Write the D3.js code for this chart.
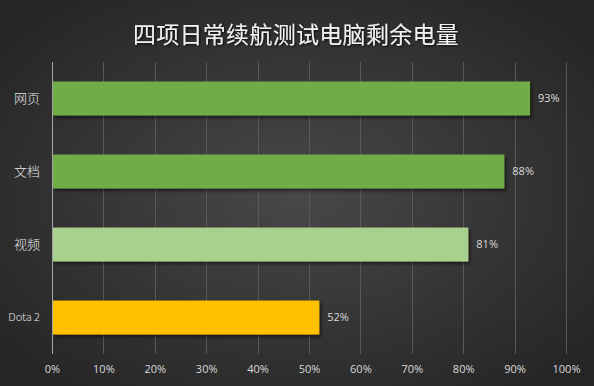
<!DOCTYPE html>
<html>
<head>
<meta charset="utf-8">
<script src="https://cdn.jsdelivr.net/npm/d3@7"></script>
<style>
    body { margin: 0; background: #2a2a2a; }
    svg { display: block; }
    text { font-family: "Noto Sans CJK SC", "Noto Sans", sans-serif; }
</style>
</head>
<body>
<div id="chart"></div>
<script>
// data
var categories = ["网页", "文档", "视频", "Dota 2"]
var values = [93, 88, 81, 52]
var barColors = ["#70ad47", "#70ad47", "#a9d18e", "#ffc000"]
var tickValues = [0, 10, 20, 30, 40, 50, 60, 70, 80, 90, 100]
var title = "四项日常续航测试电脑剩余电量"

var width = 594, height = 386
var margin = {top: 62, right: 28, bottom: 32, left: 52}
var innerW = width - margin.left - margin.right,
    innerH = height - margin.top - margin.bottom

var svg = d3.select("#chart").append("svg")
    .attr("width", width)
    .attr("height", height)

var defs = svg.append("defs")
var grad = defs.append("radialGradient")
    .attr("id", "bg")
    .attr("cx", "50%").attr("cy", "50%").attr("r", "65%")
grad.append("stop").attr("offset", "0%").attr("stop-color", "#484848")
grad.append("stop").attr("offset", "100%").attr("stop-color", "#252525")

var shadow = defs.append("filter").attr("id", "shadow")
    .attr("x", "-5%").attr("y", "-20%").attr("width", "115%").attr("height", "160%")
shadow.append("feDropShadow")
    .attr("dx", 2).attr("dy", 2.5).attr("stdDeviation", 1.8)
    .attr("flood-color", "#000").attr("flood-opacity", 0.5)

var tshadow = defs.append("filter").attr("id", "tshadow")
tshadow.append("feDropShadow")
    .attr("dx", 1).attr("dy", 1).attr("stdDeviation", 0.8)
    .attr("flood-color", "#000").attr("flood-opacity", 0.8)

svg.append("rect")
    .attr("width", width).attr("height", height)
    .attr("fill", "url(#bg)")

// title
svg.append("text")
    .attr("x", 296)
    .attr("y", 43)
    .attr("text-anchor", "middle")
    .attr("fill", "#f2f2f2")
    .attr("font-size", "23px")
    .attr("letter-spacing", "0.3px")
    .attr("filter", "url(#tshadow)")
    .text(title)

var g = svg.append("g")
    .attr("transform", "translate(" + margin.left + "," + margin.top + ")")

// scales
var x = d3.scaleLinear().domain([0, 100]).range([0, 514])
var y = d3.scaleBand().domain(categories).range([0, innerH]).paddingInner(0.535).paddingOuter(0.267)

// gridlines
g.append("g")
    .selectAll("line")
    .data(tickValues)
    .enter().append("line")
    .attr("x1", function (d) { return Math.round(x(d)) + 0.5 })
    .attr("x2", function (d) { return Math.round(x(d)) + 0.5 })
    .attr("y1", 0)
    .attr("y2", innerH)
    .attr("stroke", function (d) { return d === 0 ? "#a6a6a6" : "#595959" })
    .attr("stroke-width", 1)

// x axis labels
var xAxis = g.append("g")
    .attr("transform", "translate(0," + innerH + ")")
    .call(d3.axisBottom(x)
        .tickValues(tickValues)
        .tickSize(0)
        .tickPadding(11)
        .tickFormat(function (d) { return d + "%" }))
xAxis.select(".domain").remove()
xAxis.selectAll("text")
    .attr("fill", "#d9d9d9")
    .attr("font-size", "11px")
    .style("font-family", "\"Open Sans\", \"Noto Sans\", sans-serif")

// y axis labels
var yAxis = g.append("g")
    .call(d3.axisLeft(y).tickSize(0).tickPadding(12))
yAxis.select(".domain").remove()
yAxis.selectAll("text")
    .attr("fill", "#e6e6e6")
    .attr("font-size", function (d) { return d === "Dota 2" ? "11px" : "13px" })
    .attr("font-weight", 300)

// bars
g.selectAll(".bar")
    .data(categories)
    .enter().append("rect")
    .attr("class", "bar")
    .attr("x", 1)
    .attr("y", function (d) { return y(d) })
    .attr("width", function (d, i) { return x(values[i]) - 1 })
    .attr("height", y.bandwidth())
    .attr("fill", function (d, i) { return barColors[i] })
    .attr("filter", "url(#shadow)")

// value labels
g.selectAll(".val")
    .data(categories)
    .enter().append("text")
    .attr("class", "val")
    .attr("x", function (d, i) { return x(values[i]) + 8 })
    .attr("y", function (d) { return y(d) + y.bandwidth() / 2 })
    .attr("dy", "0.35em")
    .attr("fill", "#d9d9d9")
    .attr("font-size", "11px")
    .style("font-family", "\"Open Sans\", \"Noto Sans\", sans-serif")
    .text(function (d, i) { return values[i] + "%" })
</script>
</body>
</html>
